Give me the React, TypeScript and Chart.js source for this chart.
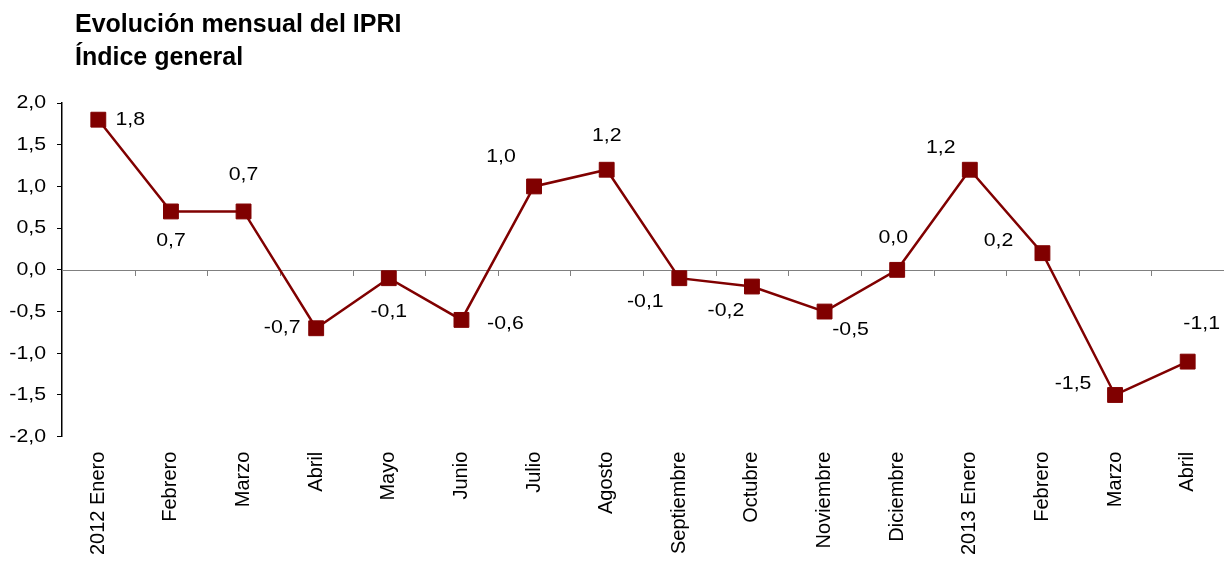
import React, { useEffect, useRef } from "react";
import { Chart, registerables } from "chart.js";

Chart.register(...registerables);

const categories = [
  "2012 Enero", "Febrero", "Marzo", "Abril", "Mayo", "Junio", "Julio", "Agosto",
  "Septiembre", "Octubre", "Noviembre", "Diciembre", "2013 Enero", "Febrero", "Marzo", "Abril",
];
const values = [1.8, 0.7, 0.7, -0.7, -0.1, -0.6, 1.0, 1.2, -0.1, -0.2, -0.5, 0.0, 1.2, 0.2, -1.5, -1.1];
const titleLines = ["Evolución mensual del IPRI", "Índice general"];
const yTicks = [2.0, 1.5, 1.0, 0.5, 0.0, -0.5, -1.0, -1.5, -2.0];
const yMin = -2;
const yMax = 2;
const yStep = 0.5;

// label placement offsets (pixels relative to each point)
const labelDx = [32, 0, 0, -34, 0, 44, -33, 0, -34, -26, 26, -4, -29, -44, -42, 14];
const labelDy = [0, 29, -37, 0, 34, 4, -30, -34, 24, 24, 18, -32, -22, -12, -11, -38];

const FONT = "'Liberation Sans', Arial, sans-serif";
const LINE_COLOR = "#800000";
const STRETCH = 1.12;

const fmt = (v: number) => v.toFixed(1).replace(".", ",");

const decorPlugin = {
  id: "decor",
  beforeDatasetsDraw(chart: any) {
    const ctx = chart.ctx;
    const x = chart.scales.x;
    const y = chart.scales.y;
    const y0 = Math.round(y.getPixelForValue(0)) + 0.5;
    ctx.save();
    ctx.strokeStyle = "#808080";
    ctx.lineWidth = 1;
    ctx.beginPath();
    ctx.moveTo(chart.chartArea.left, y0);
    ctx.lineTo(chart.chartArea.right, y0);
    for (let i = 1; i < categories.length; i++) {
      const bx = Math.round((x.getPixelForValue(i - 1) + x.getPixelForValue(i)) / 2) + 0.5;
      ctx.moveTo(bx, y0);
      ctx.lineTo(bx, y0 + 5.5);
    }
    ctx.stroke();
    ctx.restore();
  },
  afterDatasetsDraw(chart: any) {
    const ctx = chart.ctx;
    const meta = chart.getDatasetMeta(0);
    const y = chart.scales.y;
    ctx.save();
    ctx.font = `19px ${FONT}`;
    ctx.fillStyle = "#000";
    ctx.textBaseline = "middle";
    ctx.textAlign = "center";
    meta.data.forEach((pt: any, i: number) => {
      ctx.save();
      ctx.translate(pt.x + labelDx[i], pt.y + labelDy[i]);
      ctx.scale(STRETCH, 1);
      ctx.fillText(fmt(values[i]), 0, 0);
      ctx.restore();
    });
    ctx.textAlign = "right";
    yTicks.forEach((v) => {
      ctx.save();
      ctx.translate(46, y.getPixelForValue(v));
      ctx.scale(STRETCH, 1);
      ctx.fillText(fmt(v), 0, 0);
      ctx.restore();
    });
    ctx.font = `bold 25px ${FONT}`;
    ctx.textAlign = "left";
    ctx.textBaseline = "alphabetic";
    ctx.fillText(titleLines[0], 75, 32);
    ctx.fillText(titleLines[1], 75, 65);
    ctx.restore();
  },
};

export default function App() {
  const ref = useRef<HTMLCanvasElement>(null);
  useEffect(() => {
    if (!ref.current) return;
    const chart = new Chart(ref.current, {
      type: "line",
      data: {
        labels: categories,
        datasets: [
          {
            data: values,
            borderColor: LINE_COLOR,
            backgroundColor: LINE_COLOR,
            borderWidth: 2.5,
            pointStyle: "rect",
            pointRadius: 10.5,
            pointBorderWidth: 1,
            pointBorderColor: LINE_COLOR,
            pointBackgroundColor: LINE_COLOR,
            tension: 0,
            clip: false,
          },
        ],
      },
      options: {
        responsive: false,
        animation: false,
        layout: { autoPadding: false, padding: { top: 103, left: 0, right: 0, bottom: 0 } },
        plugins: {
          legend: { display: false },
          title: { display: false },
          tooltip: { enabled: false },
        },
        scales: {
          x: {
            type: "category",
            offset: true,
            grid: { display: false, drawTicks: false },
            border: { display: false },
            ticks: {
              color: "#000",
              font: { family: FONT, size: 20 },
              minRotation: 90,
              maxRotation: 90,
              padding: 15,
              autoSkip: false,
            },
            afterFit: (s: any) => {
              s.height = 125.3;
              s.paddingLeft = 0;
              s.paddingRight = 0;
            },
          },
          y: {
            min: yMin,
            max: yMax,
            grid: { drawOnChartArea: false, drawTicks: true, tickLength: 5, color: "#000", lineWidth: 1 },
            border: { display: true, color: "#000", width: 1.5 },
            ticks: {
              stepSize: yStep,
              display: false,
            },
            afterFit: (s: any) => {
              s.width = 62;
              s.paddingTop = 0;
              s.paddingBottom = 0;
            },
          },
        },
      },
      plugins: [decorPlugin],
    });
    return () => chart.destroy();
  }, []);
  return (
    <div style={{ position: "fixed", left: 0, top: 0, width: 1224, height: 562, background: "#fff" }}>
      <canvas ref={ref} width={1224} height={562} style={{ width: 1224, height: 562 }} />
    </div>
  );
}
